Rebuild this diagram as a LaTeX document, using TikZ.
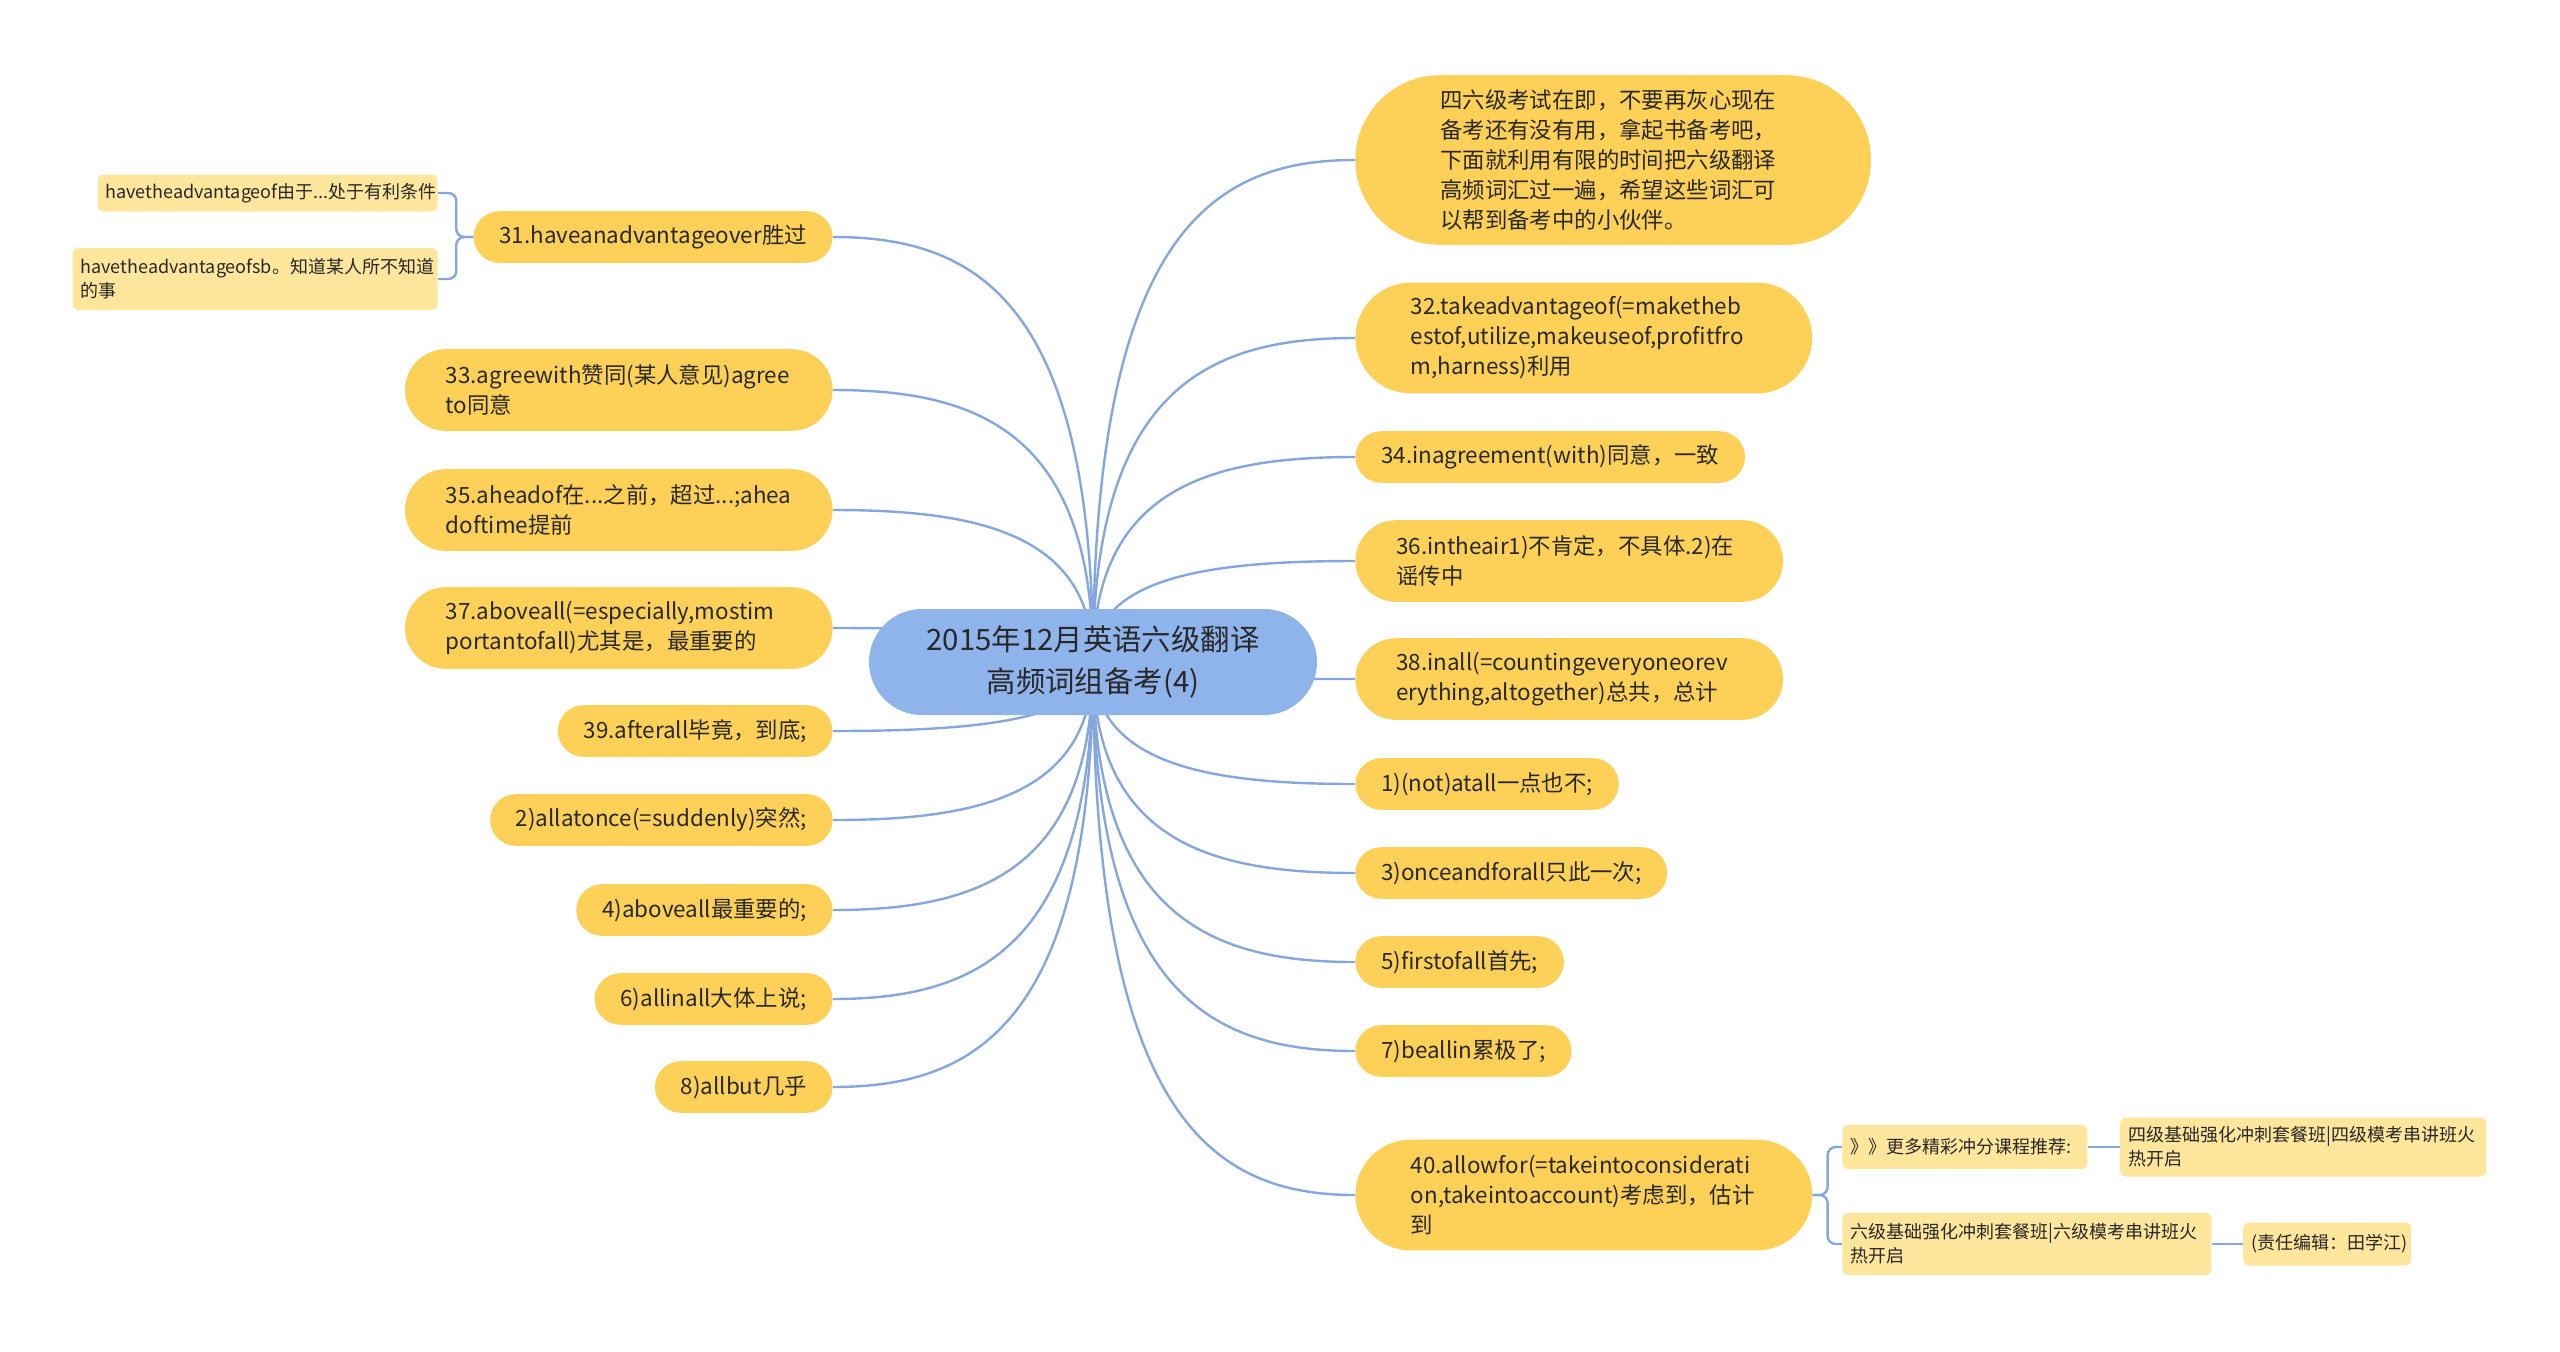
\documentclass[tikz,border=0pt]{standalone}
\usepackage{fontspec}
\setmainfont{Noto Sans CJK SC}
\usetikzlibrary{positioning,shapes.misc,backgrounds,calc}
\definecolor{hubblue}{RGB}{143,180,236}
\definecolor{sun}{RGB}{253,209,88}
\definecolor{cream}{RGB}{254,230,157}
\definecolor{wire}{RGB}{133,167,222}
\definecolor{ink}{RGB}{40,40,40}
\newcommand\hubfont{\fontsize{14.7pt}{21pt}\selectfont}
\newcommand\topicfont{\fontsize{11.2pt}{15pt}\selectfont}
\newcommand\notefont{\fontsize{9pt}{12pt}\selectfont}
\tikzset{
  hub/.style={rounded rectangle,fill=hubblue,text=ink,font=\hubfont,align=center,
    minimum height=53pt,minimum width=226pt,inner xsep=1pt},
  topic/.style={rectangle,fill=sun,text=ink,font=\topicfont,align=left,
    minimum height=2*#1,rounded corners=#1,inner xsep=#1,inner ysep=4pt},
  topic/.default=12.9pt,
  longtopic/.style={topic=#1,text width=173pt},
  longtopic/.default=20.4pt,
  note/.style={rectangle,rounded corners=3pt,fill=cream,text=ink,font=\notefont,
    align=left,text width=#1,inner xsep=4pt,inner ysep=3pt},
  branch/.style={draw=wire,line width=1.2pt,
    to path={.. controls ($(\tikztostart)!0.85!(\tikztostart|-\tikztotarget)$)
      and ($(\tikztotarget)!0.55!(\tikztostart|-\tikztotarget)$) .. (\tikztotarget)}},
  fork/.style={draw=wire,line width=1.2pt,rounded corners=4pt},
}
\begin{document}
\begin{tikzpicture}[x=0.5pt,y=-0.5pt]
  \path[use as bounding box] (0,0) rectangle (2560,1351);
  \node[hub] (root) at (1093,662) {2015年12月英语六级翻译\\高频词组备考(4)};
  % right side
  \node[longtopic=42.4pt,anchor=west] (intro) at (1355,160) {四六级考试在即，不要再灰心现在\\备考还有没有用，拿起书备考吧，\\下面就利用有限的时间把六级翻译\\高频词汇过一遍，希望这些词汇可\\以帮到备考中的小伙伴。};
  \node[longtopic=27.7pt,anchor=west] (c32) at (1355,338) {32.takeadvantageof(=maketheb\\estof,utilize,makeuseof,profitfro\\m,harness)利用};
  \node[topic,anchor=west] (c34) at (1355,457) {34.inagreement(with)同意，一致};
  \node[longtopic,anchor=west] (c36) at (1355,561) {36.intheair1)不肯定，不具体.2)在\\谣传中};
  \node[longtopic,anchor=west] (c38) at (1355,679) {38.inall(=countingeveryoneorev\\erything,altogether)总共，总计};
  \node[topic,anchor=west] (c1) at (1355,784) {1)(not)atall一点也不;};
  \node[topic,anchor=west] (c3) at (1355,873) {3)onceandforall只此一次;};
  \node[topic,anchor=west] (c5) at (1355,962) {5)firstofall首先;};
  \node[topic,anchor=west] (c7) at (1355,1051) {7)beallin累极了;};
  \node[longtopic=27.7pt,anchor=west] (c40) at (1355,1195) {40.allowfor(=takeintoconsiderati\\on,takeintoaccount)考虑到，估计\\到};
  \node[note=114.5pt,anchor=west,minimum height=22pt] (n40a) at (1842,1147) {》》更多精彩冲分课程推荐:};
  \node[note=175pt,right=16pt of n40a,minimum height=29.5pt] (n40c) {四级基础强化冲刺套餐班|四级模考串讲班火\\热开启};
  \node[note=176.5pt,anchor=west,minimum height=31pt] (n40b) at (1842,1244) {六级基础强化冲刺套餐班|六级模考串讲班火\\热开启};
  \node[note=76pt,right=15.5pt of n40b,minimum height=21.5pt] (n40d) {(责任编辑：田学江)};
  % left side
  \node[topic,anchor=east] (c31) at (833,237) {31.haveanadvantageover胜过};
  \node[note=162pt,anchor=east,minimum height=18.5pt] (n31a) at (438,193) {havetheadvantageof由于...处于有利条件};
  \node[note=174.5pt,anchor=east,minimum height=31pt] (n31b) at (438,279) {havetheadvantageofsb。知道某人所不知道\\的事};
  \node[longtopic,anchor=east] (c33) at (833,390) {33.agreewith赞同(某人意见)agree\\to同意};
  \node[longtopic,anchor=east] (c35) at (833,510) {35.aheadof在...之前，超过...;ahea\\doftime提前};
  \node[longtopic,anchor=east] (c37) at (833,628) {37.aboveall(=especially,mostim\\portantofall)尤其是，最重要的};
  \node[topic,anchor=east] (c39) at (833,731) {39.afterall毕竟，到底;};
  \node[topic,anchor=east] (c2) at (833,820) {2)allatonce(=suddenly)突然;};
  \node[topic,anchor=east] (c4) at (833,910) {4)aboveall最重要的;};
  \node[topic,anchor=east] (c6) at (833,999) {6)allinall大体上说;};
  \node[topic,anchor=east] (c8) at (833,1087) {8)allbut几乎};
  \begin{scope}[on background layer]
    \fill[white] (0,0) rectangle (2560,1351);
    \foreach \n in {intro,c32,c34,c36,c38,c1,c3,c5,c7,c40}
      \draw[branch] (root.center) to (\n.west);
    \foreach \n in {c31,c33,c35,c37,c39,c2,c4,c6,c8}
      \draw[branch] (root.center) to (\n.east);
    \draw[fork] (c31.west) -- ++(-17,0) |- (n31a.east);
    \draw[fork] (c31.west) -- ++(-17,0) |- (n31b.east);
    \draw[fork] (c40.east) -- ++(15,0) |- (n40a.west);
    \draw[fork] (c40.east) -- ++(15,0) |- (n40b.west);
    \draw[fork] (n40a.east) -- (n40c.west);
    \draw[fork] (n40b.east) -- (n40d.west);
  \end{scope}
\end{tikzpicture}
\end{document}
